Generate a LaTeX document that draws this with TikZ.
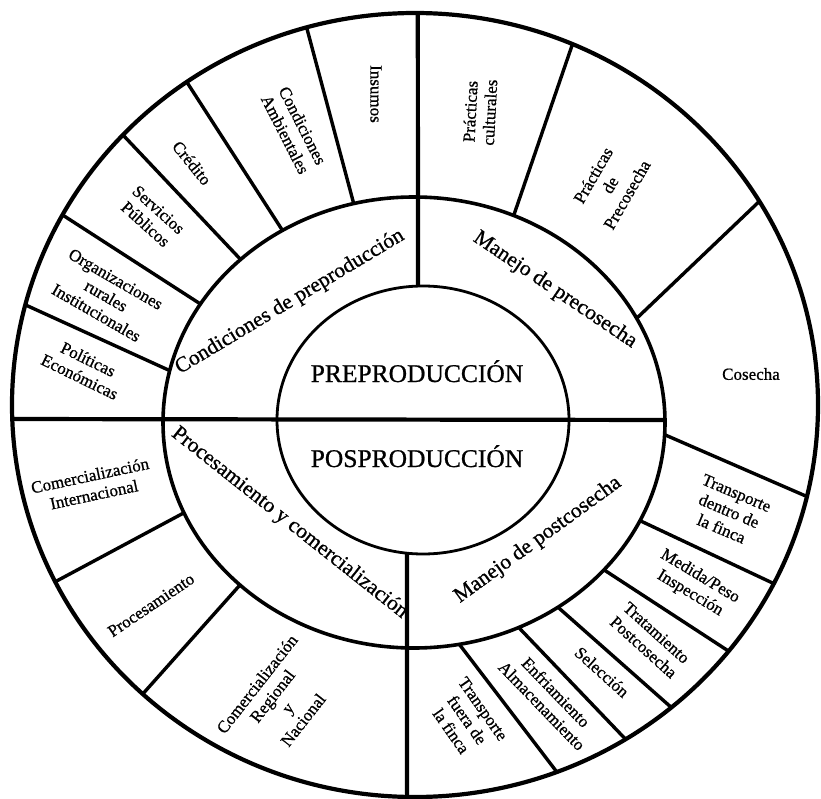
\documentclass[tikz,border=0pt]{standalone}
\usepackage{fontspec}
\setmainfont{Liberation Serif}[FakeBold=0.8]
\usetikzlibrary{calc}
\begin{document}
\begin{tikzpicture}[x=1pt,y=-1pt,
  rim/.style={line width=4.2pt},
  midrim/.style={line width=3.6pt},
  corerim/.style={line width=2.8pt},
  divider/.style={line width=4.2pt},
  sep/.style={line width=3.4pt},
  lbl/.style={font=\fontsize{17}{19.5}\selectfont, align=center, inner sep=0pt},
  sector/.style={font=\fontsize{21.5}{24}\selectfont, inner sep=0pt},
  core/.style={font=\fontsize{25.5}{28}\selectfont, inner sep=0pt}]
\useasboundingbox (0,0) rectangle (821,799);

% centres of the three rings
\coordinate (Co) at (415,405);
\coordinate (Cm) at (414,422.5);
\coordinate (Ci) at (423,420);

% rings
\draw[rim] (Co) ellipse [x radius=403pt, y radius=392pt];
\draw[midrim] (Cm) ellipse [x radius=251pt, y radius=225.5pt];
\draw[corerim] (Ci) ellipse [x radius=146pt, y radius=134pt];

% end points on the outer ring
\foreach \n/\a in {o1/105.6, o2/124.5, o3/136.45, o4/151.0, o5/165.2,
                   o9/67.0, o10/31.3, o11/-13.5, o12/-27.1, o13/-38.9,
                   o14/-50.5, o15/-58.5, o16/-69.4, o17/-153.2, o18/-132.5,
                   oL/-177.95, oT/89.6, oB/-91.14}
  \coordinate (\n) at ($(Co)+(\a:403pt and 392pt)$);
% end points on the middle ring
\foreach \n/\a in {m1/103.9, m2/121.6, m3/133.7, m4/148.3, m5/166.7,
                   m9/66.6, m10/27.5, m11/-3.1, m12/-25.8, m13/-40.8,
                   m14/-55.0, m15/-65.35, m16/-79.6, m17/-156.4, m18/-133.9,
                   mR/0.64}
  \coordinate (\n) at ($(Cm)+(\a:251pt and 225.5pt)$);
% end points on the inner ring
\coordinate (iT) at ($(Ci)+(91.96:146pt and 134pt)$);
\coordinate (iB) at ($(Ci)+(-96.29:146pt and 134pt)$);

% main dividers
\draw[divider] (oL) -- (mR);
\draw[divider] (oT) -- (iT);
\draw[divider] (iB) -- (oB);

% separators of the outer ring
\foreach \k in {1,2,3,4,5,9,10,11,12,13,14,15,16,17,18}
  \draw[sep] (m\k) -- (o\k);

% centre
\node[core, anchor=base] (pre) at (417,382) {PREPRODUCCIÓN};
\node[core, anchor=base] (pos) at (417,467) {POSPRODUCCIÓN};

% middle ring
\node[sector, rotate=31] (condpre) at (290,302) {Condiciones de preproducción};
\node[sector, rotate=-34] (manpre) at (555,290) {Manejo de precosecha};
\node[sector, rotate=-38.4] (proccom) at (289.5,523) {Procesamiento y comercialización};
\node[sector, rotate=36] (manpost) at (538,540) {Manejo de postcosecha};

% outer ring
\node[lbl, rotate=-90] (insumos) at (376,94) {Insumos};
\node[lbl, rotate=-63] (condamb) at (294,130) {Condiciones\\Ambientales};
\node[lbl, rotate=-51] (credito) at (192,163) {Crédito};
\node[lbl, rotate=-42] (servicios) at (152,217) {Servicios\\Públicos};
\node[lbl, rotate=-30] (organiz) at (106,296) {Organizaciones\\rurales\\Institucionales};
\node[lbl, rotate=-26] (politicas) at (84,368) {Políticas\\Económicas};
\node[lbl, rotate=87] (practcult) at (480,112) {Prácticas\\culturales};
\node[lbl, rotate=60] (practpre) at (610,185) {Prácticas\\de\\Precosecha};
\node[lbl] (cosecha) at (751,374) {Cosecha};
\node[lbl, rotate=-23] (transdentro) at (729,511) {Transporte\\dentro de\\la finca};
\node[lbl, rotate=-31] (medida) at (695,585) {Medida/Peso\\Inspección};
\node[lbl, rotate=-42] (tratam) at (650,640) {Tratamiento\\Postcosecha};
\node[lbl, rotate=-42] (seleccion) at (602,672) {Selección};
\node[lbl, rotate=-46] (enfriam) at (549,699) {Enfriamiento\\Almacenamiento};
\node[lbl, rotate=-55] (transfuera) at (467,720) {Transporte\\fuera de\\la finca};
\node[lbl, rotate=12] (comintl) at (92,485) {Comercialización\\Internacional};
\node[lbl, rotate=34] (procesam) at (151,605) {Procesamiento};
\node[lbl, rotate=52] (comreg) at (280,702) {Comercialización\\Regional\\y\\Nacional};
\end{tikzpicture}
\end{document}
